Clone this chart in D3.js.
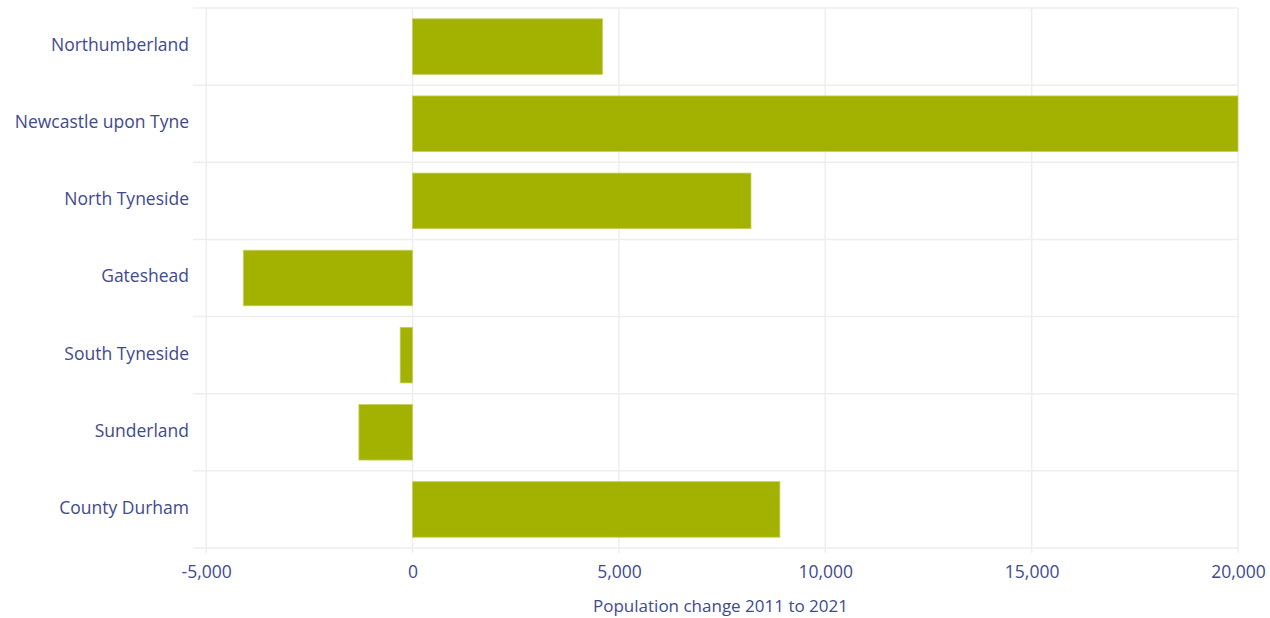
<!DOCTYPE html>
<html lang="en">
  <head>
    <meta charset="UTF-8" />
    <title>Population change 2011 to 2021</title>
    <script src="https://cdn.jsdelivr.net/npm/d3@7"></script>
    <style>
      body { margin: 0; background: #fff; }
      svg { display: block; }
      text { font-family: "Open Sans", sans-serif; fill: #414a8c; }
    </style>
  </head>
  <body>
    <svg></svg>
    <script>
      const width = 1270;
      const height = 618;

      const areas = [
        "Northumberland",
        "Newcastle upon Tyne",
        "North Tyneside",
        "Gateshead",
        "South Tyneside",
        "Sunderland",
        "County Durham",
      ];
      const change = [4600, 20000, 8200, -4100, -300, -1300, 8900];
      const tickVals = [-5000, 0, 5000, 10000, 15000, 20000];

      const data = areas.map((a, i) => ({ area: a, value: change[i] }));

      const plotLeft = 193, plotRight = 1238, plotTop = 8, plotBottom = 548;

      const x = d3.scaleLinear().domain([-5320, 20000]).range([plotLeft, plotRight]);
      const y = d3.scaleBand().domain(areas).range([plotTop, plotBottom])
        .paddingInner(0.28).paddingOuter(0.14);

      const svg = d3.select("svg").attr("width", width).attr("height", height);

      // vertical gridlines
      svg.append("g").selectAll("line")
        .data(tickVals)
        .join("line")
        .attr("x1", d => x(d)).attr("x2", d => x(d))
        .attr("y1", plotTop).attr("y2", plotBottom + 5)
        .attr("stroke", "#eeeeee").attr("stroke-width", 1.5);

      // horizontal row separators
      const seps = areas.map(a => y(a) - y.step() * y.paddingInner() / 2);
      seps.push(plotBottom);
      svg.append("g").selectAll("line")
        .data(seps)
        .join("line")
        .attr("x1", plotLeft).attr("x2", plotRight)
        .attr("y1", d => d).attr("y2", d => d)
        .attr("stroke", "#eeeeee").attr("stroke-width", 1.5);

      // bars
      svg.append("g").selectAll("rect")
        .data(data)
        .join("rect")
        .attr("x", d => x(Math.min(0, d.value)))
        .attr("y", d => y(d.area))
        .attr("width", d => Math.abs(x(d.value) - x(0)))
        .attr("height", y.bandwidth())
        .attr("fill", "#a3b100")
        .attr("stroke", "#c4cf5c")
        .attr("stroke-width", 0.8);

      // category labels
      svg.append("g").selectAll("text")
        .data(areas)
        .join("text")
        .attr("x", plotLeft - 4)
        .attr("y", d => y(d) + y.bandwidth() / 2)
        .attr("dy", "0.25em")
        .attr("text-anchor", "end")
        .attr("font-size", 17.5)
        .text(d => d);

      // x axis, plain hyphen for negatives like the original
      const fmt = d3.format(",");
      const xAxis = d3.axisBottom(x)
        .tickValues(tickVals)
        .tickFormat(d => fmt(d).replace("\u2212", "-"))
        .tickSize(0)
        .tickPadding(18);
      const ax = svg.append("g").attr("transform", `translate(0,${plotBottom})`).call(xAxis);
      ax.select(".domain").remove();
      ax.selectAll("text").attr("font-size", 17.5).attr("font-family", "Open Sans, sans-serif").attr("fill", "#414a8c");

      svg.append("text")
        .attr("x", (plotLeft + plotRight) / 2 + 5)
        .attr("y", 612)
        .attr("text-anchor", "middle")
        .attr("font-size", 17)
        .text("Population change 2011 to 2021");
    </script>
  </body>
</html>
